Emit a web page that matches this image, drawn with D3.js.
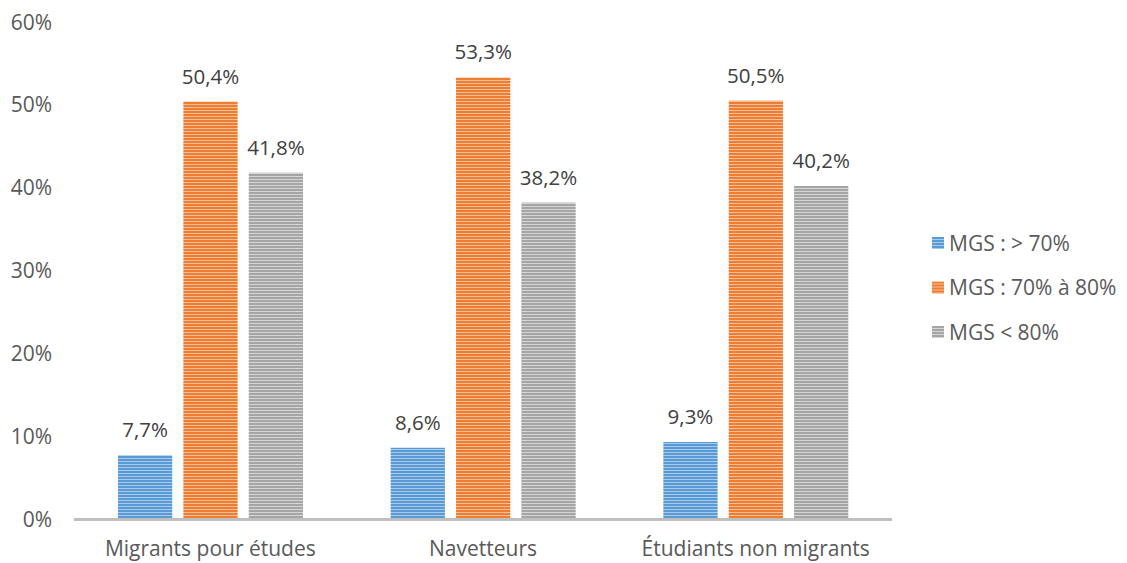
<!DOCTYPE html>
<html><head><meta charset="utf-8">
<script src="https://cdn.jsdelivr.net/npm/d3@7"></script>
<style>body{margin:0;background:#fff}svg{display:block}text{font-family:"Open Sans",sans-serif}</style>
</head><body><svg id="c" width="1127" height="563"></svg>
<script>
const categories = ["Migrants pour études", "Navetteurs", "Étudiants non migrants"];
const seriesNames = ["MGS : > 70%", "MGS : 70% à 80%", "MGS < 80%"];
const valuesLow = [7.7, 8.6, 9.3];
const valuesMid = [50.4, 53.3, 50.5];
const valuesHigh = [41.8, 38.2, 40.2];
const yTicks = [0, 10, 20, 30, 40, 50, 60];
const colors = ["#5B9BD5", "#ED7D31", "#A5A5A5"];
const lightColors = ["#A9CBEB", "#F6BE98", "#D5D5D5"];
const series = [valuesLow, valuesMid, valuesHigh];

const svg = d3.select("#c");
const defs = svg.append("defs");
colors.forEach((c, i) => {
  const p = defs.append("pattern").attr("id", "p" + i).attr("patternUnits", "userSpaceOnUse")
    .attr("width", 6).attr("height", 3);
  p.append("rect").attr("width", 6).attr("height", 3).attr("fill", lightColors[i]);
  p.append("rect").attr("width", 6).attr("height", 2).attr("fill", c);
});

const x0 = d3.scaleBand().domain(categories).range([74, 892]).paddingInner(0).paddingOuter(0);
const x1 = d3.scaleBand().domain(d3.range(3)).range([44, 229]).paddingInner(0.17);
const y = d3.scaleLinear().domain([0, 60]).range([519, 22]);

// y tick labels
svg.append("g").selectAll("text").data(yTicks).join("text")
  .attr("x", 52).attr("y", d => y(d)).attr("dy", "0.36em").attr("text-anchor", "end")
  .attr("font-size", 21).attr("fill", "#595959").text(d => d + "%");

const groups = svg.append("g").selectAll("g").data(categories).join("g")
  .attr("transform", d => `translate(${x0(d)},0)`);
series.forEach((vals, si) => {
  groups.append("rect")
    .attr("x", x1(si)).attr("width", x1.bandwidth())
    .attr("y", (d, ci) => y(vals[ci])).attr("height", (d, ci) => y(0) - y(vals[ci]))
    .attr("fill", `url(#p${si})`);
  groups.append("text")
    .attr("x", x1(si) + x1.bandwidth() / 2).attr("y", (d, ci) => y(vals[ci]) - 18)
    .attr("text-anchor", "middle").attr("font-size", 20.5).attr("fill", "#404040")
    .text((d, ci) => vals[ci].toFixed(1).replace(".", ",") + "%");
});

// baseline
svg.append("line").attr("x1", 74).attr("x2", 892).attr("y1", y(0) + 0.5).attr("y2", y(0) + 0.5)
  .attr("stroke", "#BFBFBF").attr("stroke-width", 3);

// category labels
svg.append("g").selectAll("text").data(categories).join("text")
  .attr("x", d => x0(d) + x0.bandwidth() / 2).attr("y", 556)
  .attr("text-anchor", "middle").attr("font-size", 21).attr("fill", "#595959").text(d => d);

// legend
const leg = svg.append("g").selectAll("g").data(seriesNames).join("g")
  .attr("transform", (d, i) => `translate(932,${243 + i * 44.5})`);
leg.append("rect").attr("x", 0).attr("y", -6).attr("width", 12).attr("height", 12)
  .attr("fill", (d, i) => `url(#p${i})`);
leg.append("text").attr("x", 17).attr("y", 0).attr("dy", "0.36em")
  .attr("font-size", 21).attr("fill", "#595959").text(d => d);
</script></body></html>
